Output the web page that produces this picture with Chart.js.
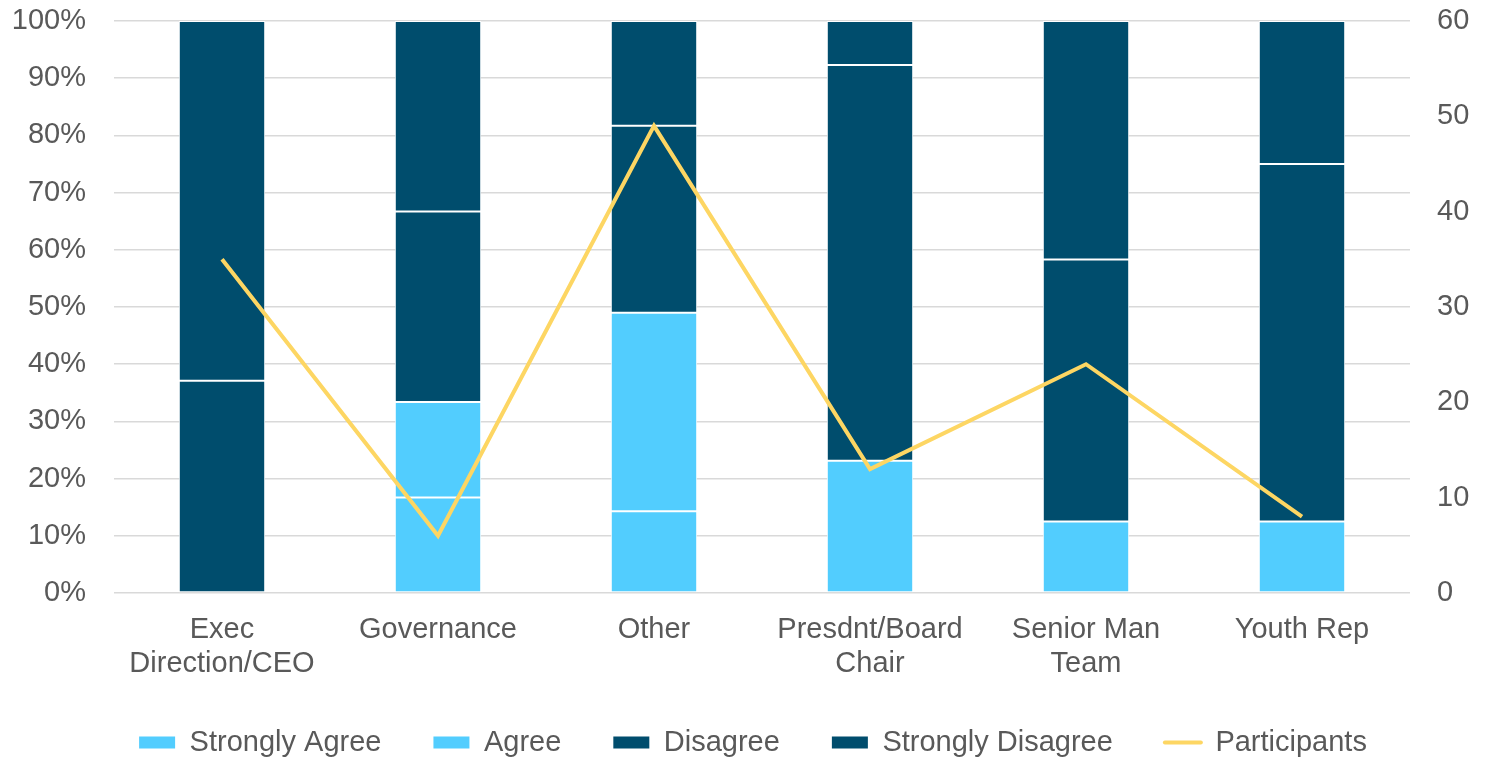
<!DOCTYPE html>
<html>
<head>
<meta charset="utf-8">
<script src="https://cdn.jsdelivr.net/npm/chart.js@4.4.1/dist/chart.umd.min.js"></script>
<style>
  html, body { margin: 0; padding: 0; background: #fff; }
  #wrap { width: 1496px; height: 758px; position: relative; }
</style>
</head>
<body>
<div id="wrap"><canvas id="chart"></canvas></div>
<script>
  // Role categories (multi-line labels)
  var roles = [
    ['Exec', 'Direction/CEO'],
    'Governance',
    'Other',
    ['Presdnt/Board', 'Chair'],
    ['Senior Man', 'Team'],
    'Youth Rep'
  ];

  // Share of responses per role, in percent
  var stronglyAgree = [0, 16.7, 14.3, 0, 12.5, 12.5];
  var agree = [0, 16.7, 34.7, 23.1, 0, 0];
  var disagree = [37.1, 33.3, 32.7, 69.2, 45.8, 62.5];
  var stronglyDisagree = [62.9, 33.3, 18.3, 7.7, 41.7, 25];

  // Number of participants per role (right axis)
  var participants = [35, 6, 49, 13, 24, 8];

  var LIGHT = '#52cdfe';
  var DARK = '#004d6d';
  var GOLD = '#fdd663';
  var TEXT = '#595959';
  var GRID = '#d9d9d9';
  var FONT = "'Liberation Sans', Arial, sans-serif";
  var FSIZE = 29;

  function barSet(label, data, color) {
    return {
      type: 'bar',
      label: label,
      data: data,
      backgroundColor: color,
      borderColor: '#ffffff',
      borderWidth: 1,
      borderSkipped: false,
      yAxisID: 'y',
      order: 1,
      barPercentage: 0.4,
      categoryPercentage: 1
    };
  }

  // fixed axis sizes so the plot area lands where we want it
  function fixWidth(w) {
    return function (scale) {
      scale.width = w;
      scale.paddingTop = 0;
      scale.paddingBottom = 0;
    };
  }

  new Chart(document.getElementById('chart'), {
    data: {
      labels: roles,
      datasets: [
        barSet('Strongly Agree', stronglyAgree, LIGHT),
        barSet('Agree', agree, LIGHT),
        barSet('Disagree', disagree, DARK),
        barSet('Strongly Disagree', stronglyDisagree, DARK),
        {
          type: 'line',
          label: 'Participants',
          data: participants,
          borderColor: GOLD,
          backgroundColor: GOLD,
          borderWidth: 4,
          pointRadius: 0,
          tension: 0,
          yAxisID: 'y1',
          order: 0
        }
      ]
    },
    options: {
      responsive: true,
      maintainAspectRatio: false,
      animation: false,
      layout: { padding: { top: 21, right: 0, left: 10, bottom: -9 } },
      plugins: {
        tooltip: { enabled: false },
        legend: {
          position: 'bottom',
          labels: {
            color: TEXT,
            font: { family: FONT, size: FSIZE },
            usePointStyle: true,
            pointStyleWidth: 36,
            boxHeight: 12,
            padding: 52,
            sort: function (a, b) { return a.datasetIndex - b.datasetIndex; },
            generateLabels: function (chart) {
              var items = Chart.defaults.plugins.legend.labels.generateLabels(chart);
              items.forEach(function (it) {
                var ds = chart.data.datasets[it.datasetIndex];
                if (ds.type === 'line') {
                  it.pointStyle = 'line';
                  it.strokeStyle = GOLD;
                  it.lineWidth = 4;
                  it.lineCap = 'round';
                } else {
                  it.pointStyle = 'rect';
                  it.lineWidth = 0;
                  it.strokeStyle = ds.backgroundColor;
                }
              });
              return items;
            }
          }
        }
      },
      scales: {
        x: {
          stacked: true,
          grid: { display: false },
          border: { display: false },
          afterFit: function (scale) { scale.height = 83; },
          ticks: {
            color: TEXT,
            font: { family: FONT, size: FSIZE, lineHeight: 1.17 },
            padding: 12,
            maxRotation: 0
          }
        },
        y: {
          stacked: true,
          min: 0,
          max: 100,
          position: 'left',
          grid: { color: GRID, lineWidth: 1.5, drawTicks: false },
          border: { display: false },
          afterFit: fixWidth(104),
          ticks: {
            stepSize: 10,
            color: TEXT,
            font: { family: FONT, size: FSIZE },
            padding: 28,
            callback: function (v) { return v + '%'; }
          }
        },
        y1: {
          min: 0,
          max: 60,
          position: 'right',
          grid: { display: false, drawTicks: false },
          border: { display: false },
          afterFit: fixWidth(86),
          ticks: {
            stepSize: 10,
            color: TEXT,
            font: { family: FONT, size: FSIZE },
            padding: 27
          }
        }
      }
    }
  });
</script>
</body>
</html>
